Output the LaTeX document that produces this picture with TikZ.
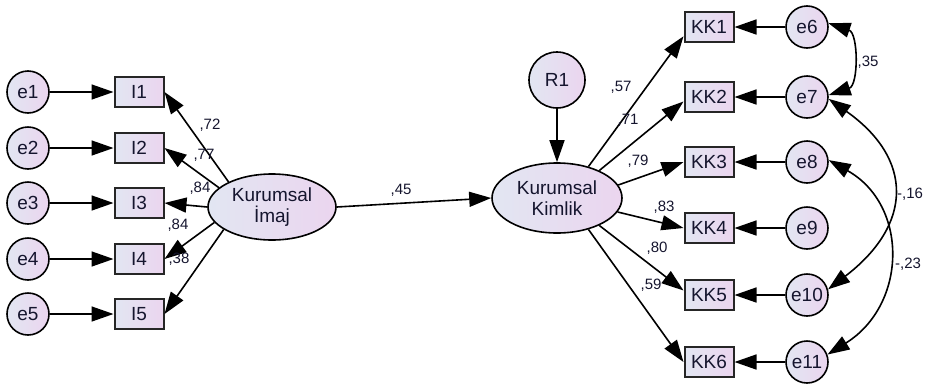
\documentclass[tikz,border=0pt]{standalone}
\usepackage{fontspec}
\setmainfont{Liberation Sans}
\usetikzlibrary{shapes.geometric, arrows.meta, positioning, calc}

\definecolor{fillL}{HTML}{E2E6F2}
\definecolor{fillR}{HTML}{EBD5EF}
\definecolor{ink}{HTML}{15152E}

\tikzset{
    latent/.style={ellipse, draw, line width=1.6pt, left color=fillL, right color=fillR, minimum width=128pt, minimum height=66pt, inner sep=0pt, align=center, text=ink, font=\fontsize{19}{21}\selectfont},
    observed/.style={rectangle, draw=black!85, line width=2pt, left color=fillL, right color=fillR, minimum width=49pt, minimum height=30pt, inner sep=0pt, text=ink, font=\fontsize{19}{21}\selectfont},
    err/.style={circle, draw, line width=1.6pt, left color=fillL, right color=fillR, minimum size=42pt, inner sep=0pt, text=ink, font=\fontsize{19}{21}\selectfont},
    regr/.style={-{Triangle[length=22pt,width=15pt]}, line width=1.6pt},
    cov/.style={{Triangle[length=22pt,width=15pt]}-{Triangle[length=22pt,width=15pt]}, line width=1.6pt},
    lbl/.style={inner sep=0pt, text=ink, font=\fontsize{15}{15}\selectfont}
}

\begin{document}
\begin{tikzpicture}[x=1pt, y=-1pt]
    \useasboundingbox (0,0) rectangle (925,386);

    % Define nodes
    \node [latent] (imaj) at (272,207) {Kurumsal\\İmaj};
    \node [latent, minimum width=130pt, minimum height=70pt] (kimlik) at (557,198) {Kurumsal\\Kimlik};
    \node [err, minimum size=56pt] (r1) at (557,80) {R1};

    \foreach \i/\y in {1/92, 2/148, 3/203, 4/259, 5/314} {
        \node [err] (e\i) at (28,\y) {e\i};
        \node [observed] (I\i) at (139,\y) {I\i};
    }
    \foreach \i/\e/\y in {1/6/27, 2/7/97, 3/8/162, 4/9/228, 5/10/295, 6/11/362} {
        \node [observed] (KK\i) at (709,\y) {KK\i};
        \node [err] (e\e) at (807,\y) {e\e};
    }

    % Draw arrows
    \foreach \i in {1,...,5}
        \draw [regr] (e\i) -- (I\i);
    \foreach \i/\e in {1/6, 2/7, 3/8, 4/9, 5/10, 6/11}
        \draw [regr] (e\e) -- (KK\i);

    \draw [regr] (imaj.150) -- (I1.east);
    \draw [regr] (imaj.160) -- (I2.east);
    \draw [regr] (imaj.west) -- (I3.east);
    \draw [regr] (imaj.195) -- (I4.east);
    \draw [regr] (imaj.205) -- (I5.east);

    \draw [regr] (imaj.east) -- (kimlik.west);
    \draw [regr] (r1) -- (kimlik);

    \draw [regr] (kimlik.45) -- (KK1.200);
    \draw [regr] (kimlik.33) -- (KK2.190);
    \draw [regr] (kimlik.12) -- (KK3.west);
    \draw [regr] (kimlik.-13) -- (KK4.west);
    \draw [regr] (kimlik.-33) -- (KK5.170);
    \draw [regr] (kimlik.-45) -- (KK6.west);

    % Covariances
    \draw [cov] (e6.10) .. controls +(30,10) and +(30,-10) .. (e7.5);
    \draw [cov] (e7.-5) .. controls +(85,60) and +(85,-65) .. (e10.15);
    \draw [cov] (e8.5) .. controls +(80,45) and +(80,-50) .. (e11.20);

    % Labels
    \node [lbl] (l72) at (210,125) {,72};
    \node [lbl] (l77) at (204,155) {,77};
    \node [lbl] (l84a) at (200,188) {,84};
    \node [lbl] (l84b) at (178,225) {,84};
    \node [lbl] (l38) at (179,259) {,38};
    \node [lbl] (l45) at (401,190) {,45};
    \node [lbl] (l57) at (621,87) {,57};
    \node [lbl] (l71) at (628,120) {,71};
    \node [lbl] (l79) at (638,161) {,79};
    \node [lbl] (l83) at (664,207) {,83};
    \node [lbl] (l80) at (657,248) {,80};
    \node [lbl] (l59) at (651,285) {,59};
    \node [lbl] (l35) at (868,62) {,35};
    \node [lbl] (l16) at (910,194) {-,16};
    \node [lbl] (l23) at (908,264) {-,23};
\end{tikzpicture}
\end{document}
